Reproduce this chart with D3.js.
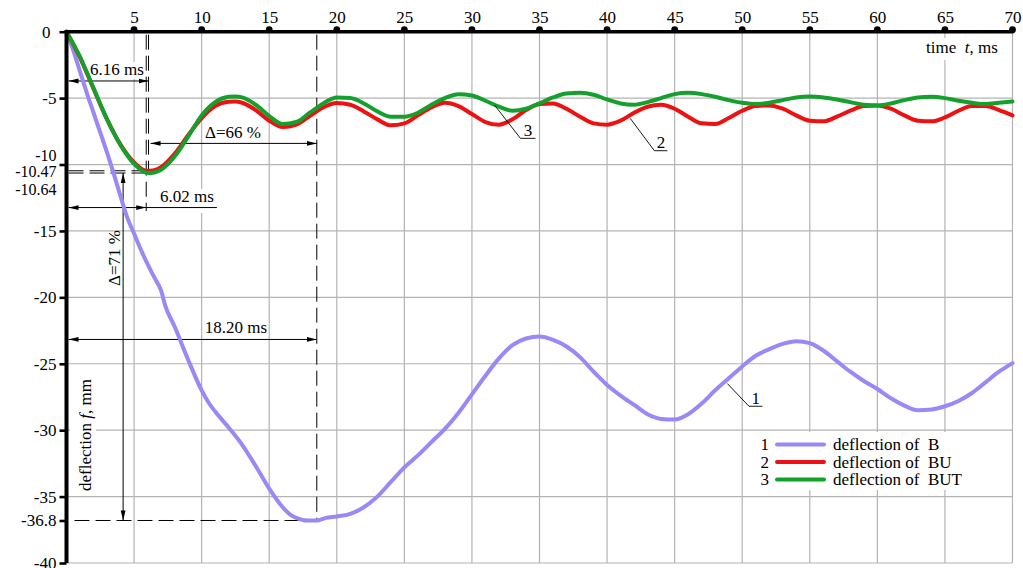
<!DOCTYPE html>
<html><head><meta charset="utf-8">
<script src="https://cdn.jsdelivr.net/npm/d3@7"></script>
<style>
body{margin:0;background:#fff}
svg{display:block}
svg text{font-family:"Liberation Serif","Tinos","Noto Serif","DejaVu Serif",serif !important;font-size:17px;fill:#000}
svg text.sm{font-size:16px}
</style>
</head><body>
<svg id="c" width="1023" height="568"></svg>
<script>
// ---------- data ----------
const xTicks = [5,10,15,20,25,30,35,40,45,50,55,60,65,70];
const yTicks = [0,-5,-10,-15,-20,-25,-30,-35,-36.8,-40];
const yExtraLabels = [-10.47,-10.64];
const gridY = [-5,-10,-15,-20,-25,-30,-35,-40];

const tB = [0,0.5,1,1.5,2,2.5,3,3.5,4,4.5,5,5.5,6,6.5,7,7.3,8,9,10,10.5,11,12,13,14,15,16,16.6,17,17.8,18.5,19.2,20,21,22,23,24,25,26,27,28,29,30,31,32,33,34,35,36,37,38,39,40,41,42,43,44,45,46,47,48,49,50,51,52,53,54,55,56,57,58,59,60,61,62,63,64,65,66,67,68,69,70];
const fB = [0,-1.4,-3.0,-4.6,-6.1,-7.6,-9.1,-10.7,-12.4,-14.0,-15.2,-16.4,-17.5,-18.5,-19.5,-20.6,-22.2,-24.7,-27.0,-27.9,-28.6,-29.8,-31.1,-32.7,-34.4,-35.8,-36.4,-36.6,-36.8,-36.8,-36.6,-36.5,-36.3,-35.8,-35.0,-33.9,-32.8,-31.9,-30.9,-29.9,-28.7,-27.3,-25.9,-24.6,-23.6,-23.1,-22.95,-23.2,-23.7,-24.5,-25.6,-26.6,-27.4,-28.1,-28.8,-29.15,-29.2,-28.8,-28.0,-27.0,-26.1,-25.2,-24.4,-23.9,-23.5,-23.3,-23.45,-24.0,-24.8,-25.6,-26.3,-26.9,-27.6,-28.15,-28.5,-28.45,-28.2,-27.8,-27.2,-26.4,-25.6,-24.95];

const tBU = [0,1,2,3,4,5,5.9,6.5,7,8,9,10,11,12,12.5,13,14,15,16,17,18,19,20,21,22,23,24,25,26,27,28,29,30,31,32,33,34,35,36,37,38,39,40,41,42,43,44,45,46,47,48,49,50,51,52,53,54,55,56,57,58,59,60,61,62,63,64,65,66,67,68,69,70];
const fBU = [0,-1.95,-4.3,-6.6,-8.5,-9.85,-10.47,-10.42,-10.2,-9.2,-7.8,-6.5,-5.6,-5.27,-5.25,-5.35,-5.9,-6.7,-7.18,-7.0,-6.35,-5.7,-5.37,-5.5,-6.0,-6.6,-7.05,-6.9,-6.3,-5.7,-5.35,-5.6,-6.2,-6.8,-7.0,-6.6,-5.9,-5.45,-5.4,-5.8,-6.4,-6.9,-7.0,-6.7,-6.1,-5.65,-5.5,-5.8,-6.4,-6.9,-6.95,-6.5,-5.95,-5.6,-5.55,-5.8,-6.3,-6.7,-6.75,-6.4,-5.95,-5.6,-5.55,-5.8,-6.3,-6.7,-6.75,-6.45,-5.95,-5.6,-5.6,-5.9,-6.3];

const tBUT = [0,1,2,3,4,5,6.07,6.5,7,8,9,10,11,12,12.5,13,14,15,16,17,18,19,20,21,22,23,24,25,26,27,28,29,30,31,32,33,34,35,36,37,38,39,40,41,42,43,44,45,46,47,48,49,50,51,52,53,54,55,56,57,58,59,60,61,62,63,64,65,66,67,68,69,70];
const fBUT = [0,-1.9,-4.25,-6.6,-8.55,-9.95,-10.64,-10.6,-10.4,-9.4,-7.9,-6.3,-5.3,-4.9,-4.87,-4.95,-5.5,-6.35,-6.95,-6.8,-6.1,-5.4,-4.95,-5.0,-5.4,-6.0,-6.4,-6.4,-6.1,-5.5,-5.0,-4.7,-4.8,-5.2,-5.65,-5.95,-5.8,-5.4,-4.95,-4.65,-4.6,-4.75,-5.1,-5.4,-5.5,-5.3,-5.0,-4.7,-4.6,-4.7,-4.9,-5.15,-5.35,-5.45,-5.35,-5.15,-4.95,-4.88,-4.95,-5.1,-5.3,-5.5,-5.55,-5.4,-5.15,-4.95,-4.9,-5.0,-5.2,-5.35,-5.45,-5.35,-5.25];

const seriesNames = ["deflection of  B","deflection of  BU","deflection of  BUT"];
const seriesIds = ["1","2","3"];
const seriesColors = ["#9b88f6","#ee1111","#14a02c"];

// annotation values (as drawn): times in ms, deflections in mm
const tMinBU = 5.9, tMinBUT = 6.07, tMinB = 18.52;
const fMinBU = -10.47, fMinBUT = -10.64, fMinB = -36.8;
const dimLabels = ["6.16 ms","6.02 ms","18.20 ms","\u0394=66 %","\u0394=71 %"];
const dimLevels = [-3.71,-13.24,-23.17,-8.41]; // y-levels of horizontal dimension lines
const tDelta71 = 4.19;
const leader1 = [[48.9,-26.49],[50.5,-28.2],[51.5,-28.2]];
const leader2 = [[41.71,-6.52],[43.5,-8.96],[44.47,-8.96]];
const leader3 = [[31.67,-5.52],[33.59,-8.03],[34.7,-8.03]];

// ---------- chart ----------
const FONT = '"Liberation Serif","Tinos","Noto Serif","DejaVu Serif",serif';
const svg = d3.select("#c").attr("font-family",FONT);
const x = d3.scaleLinear().domain([0,70]).range([66.5,1012.5]);
const y = d3.scaleLinear().domain([0,-40]).range([31.7,563]);

svg.append("rect").attr("width",1023).attr("height",568).attr("fill","#fff");

// grid
const grid = svg.append("g").attr("stroke","#b3b3b3").attr("stroke-width",1.2);
grid.selectAll("line.v").data(xTicks).join("line")
  .attr("x1",d=>x(d)).attr("x2",d=>x(d)).attr("y1",y(0)).attr("y2",y(-40));
grid.selectAll("line.h").data(gridY).join("line")
  .attr("x1",x(0)).attr("x2",x(70)).attr("y1",d=>y(d)).attr("y2",d=>y(d));

// white backgrounds behind texts
const bg = [
  [924,38,80,22],   // time title
  [70,376,26,118],  // y title
  [755,432,248,58], // legend
  [158,189,60,24],  // 6.02 ms
  [88,62,60,17]     // 6.16 ms
];
svg.append("g").selectAll("rect").data(bg).join("rect")
  .attr("x",d=>d[0]).attr("y",d=>d[1]).attr("width",d=>d[2]).attr("height",d=>d[3]).attr("fill","#fff");

// arrow marker
const defs = svg.append("defs");
defs.append("marker").attr("id","arr").attr("viewBox","0 0 10 6").attr("refX",10).attr("refY",3)
  .attr("markerWidth",10).attr("markerHeight",6).attr("markerUnits","userSpaceOnUse")
  .attr("orient","auto-start-reverse")
  .append("path").attr("d","M0,0.6 L10,3 L0,5.4 Z").attr("fill","#000");

// dashed reference lines
const dash = svg.append("g").attr("stroke","#000").attr("stroke-width",1).attr("fill","none").attr("stroke-dasharray","15,6");
dash.append("line").attr("x1",x(tMinBU)).attr("x2",x(tMinBU)).attr("y1",y(0)+3).attr("y2",y(-13.5));
dash.append("line").attr("x1",x(tMinBUT)).attr("x2",x(tMinBUT)).attr("y1",y(0)+3).attr("y2",y(fMinBUT));
dash.append("line").attr("x1",x(tMinB)).attr("x2",x(tMinB)).attr("y1",y(0)+3).attr("y2",y(fMinB));
dash.append("line").attr("x1",x(0)+2).attr("x2",x(tMinBU)).attr("y1",y(fMinBU)).attr("y2",y(fMinBU));
dash.append("line").attr("x1",x(0)+2).attr("x2",x(tMinBUT)).attr("y1",y(fMinBUT)).attr("y2",y(fMinBUT));
dash.append("line").attr("x1",x(0)+8).attr("x2",x(tMinB)).attr("y1",y(fMinB)).attr("y2",y(fMinB));

// dimension lines
const dim = svg.append("g").attr("stroke","#000").attr("stroke-width",1);
const dims = [[0,tMinBUT,dimLevels[0]],[0,tMinBU,dimLevels[1]],[0,tMinB,dimLevels[2]],[tMinBUT,tMinB,dimLevels[3]]];
dim.selectAll("line.d").data(dims).join("line")
  .attr("x1",d=>x(d[0])+2).attr("x2",d=>x(d[1])).attr("y1",d=>y(d[2])).attr("y2",d=>y(d[2]))
  .attr("marker-start","url(#arr)").attr("marker-end","url(#arr)");
dim.append("line").attr("x1",x(tMinBU)).attr("x2",x(11.13)).attr("y1",y(dimLevels[1])).attr("y2",y(dimLevels[1]));
dim.append("line").attr("x1",x(tDelta71)).attr("x2",x(tDelta71)).attr("y1",y(fMinBUT)).attr("y2",y(fMinB))
  .attr("marker-start","url(#arr)").attr("marker-end","url(#arr)");

// dimension texts
const txt = svg.append("g").attr("text-anchor","middle");
txt.append("text").attr("x",117).attr("y",y(dimLevels[0])-6).text(dimLabels[0]);
txt.append("text").attr("x",187).attr("y",y(dimLevels[1])-6).text(dimLabels[1]);
txt.append("text").attr("x",236).attr("y",y(dimLevels[2])-6).text(dimLabels[2]);
txt.append("text").attr("x",233).attr("y",y(dimLevels[3])-5).text(dimLabels[3]);
txt.append("text").attr("transform",`translate(${x(tDelta71)-3},258) rotate(-90)`).text(dimLabels[4]);

// curves
const line = d3.line().x(d=>x(d[0])).y(d=>y(d[1])).curve(d3.curveMonotoneX);
const series = [d3.zip(tB,fB), d3.zip(tBU,fBU), d3.zip(tBUT,fBUT)];
svg.append("g").attr("fill","none").attr("stroke-width",4).attr("stroke-linejoin","round").attr("stroke-linecap","round")
  .selectAll("path").data(series).join("path")
  .attr("stroke",(d,i)=>seriesColors[i]).attr("d",line);

// leaders
const lead = d3.line().x(d=>x(d[0])).y(d=>y(d[1]));
const leaders = [leader1,leader2,leader3];
svg.append("g").attr("fill","none").attr("stroke","#000").attr("stroke-width",0.9)
  .selectAll("path").data(leaders).join("path").attr("d",lead);
svg.append("g").attr("text-anchor","middle").selectAll("text").data(leaders).join("text")
  .attr("x",d=>(x(d[1][0])+x(d[2][0]))/2).attr("y",d=>y(d[2][1])-2.5).text((d,i)=>seriesIds[i]);

// axes
const xAxis = svg.append("g").attr("transform",`translate(0,${y(0)})`)
  .call(d3.axisTop(x).tickValues(xTicks).tickSize(0).tickPadding(9).tickFormat(d=>String(d)));
xAxis.attr("font-family",FONT).attr("font-size",17);
xAxis.select(".domain").remove();

const yAxis = svg.append("g").attr("transform",`translate(${x(0)},0)`)
  .call(d3.axisLeft(y).tickValues(yTicks).tickSize(7).tickPadding(3).tickFormat(d=>String(d)));
yAxis.attr("font-family",FONT).attr("font-size",17);
yAxis.select(".domain").remove();
yAxis.selectAll("line").attr("stroke-width",2.6);
const nudge = {"-10":-9.5, "0":0};
yAxis.selectAll("text")
  .attr("class",d=>d===-10?"sm":null)
  .attr("dx",d=>d===0?-6:0)
  .attr("y",d=>nudge[String(d)]||0);
const extraNudge = [1.5,16.5];
svg.append("g").attr("text-anchor","end").selectAll("text").data(yExtraLabels).join("text")
  .attr("class","sm")
  .attr("x",x(0)-10).attr("y",(d,i)=>y(d)+extraNudge[i]).attr("dy","0.32em").text(d=>String(d));

svg.append("line").attr("x1",x(0)).attr("x2",x(70)+1).attr("y1",y(0)).attr("y2",y(0)).attr("stroke","#000").attr("stroke-width",3.6);
svg.append("line").attr("x1",x(0)).attr("x2",x(0)).attr("y1",y(0)-1.8).attr("y2",y(-40)).attr("stroke","#000").attr("stroke-width",4);
svg.append("g").selectAll("circle").data(xTicks).join("circle")
  .attr("cx",d=>x(d)).attr("cy",y(0)-2).attr("r",3.4).attr("fill","#000");

// axis titles
const tt = svg.append("text").attr("x",926).attr("y",53);
tt.append("tspan").text("time\u00a0 ");
tt.append("tspan").attr("font-style","italic").text("t");
tt.append("tspan").text(", ms");
const yt = svg.append("text").attr("text-anchor","middle").attr("transform","translate(91,435) rotate(-90)");
yt.append("tspan").text("deflection ");
yt.append("tspan").attr("font-style","italic").text("f");
yt.append("tspan").text(", mm");

// legend
const lg = svg.append("g").selectAll("g").data(seriesNames).join("g")
  .attr("transform",(d,i)=>`translate(0,${444.5+i*17.5})`);
lg.append("text").attr("x",769).attr("dy","0.34em").attr("text-anchor","end").text((d,i)=>seriesIds[i]);
lg.append("line").attr("x1",777).attr("x2",824).attr("stroke",(d,i)=>seriesColors[i]).attr("stroke-width",4).attr("stroke-linecap","round");
lg.append("text").attr("x",833).attr("dy","0.34em").style("white-space","pre").text(d=>d);
</script>
</body></html>
